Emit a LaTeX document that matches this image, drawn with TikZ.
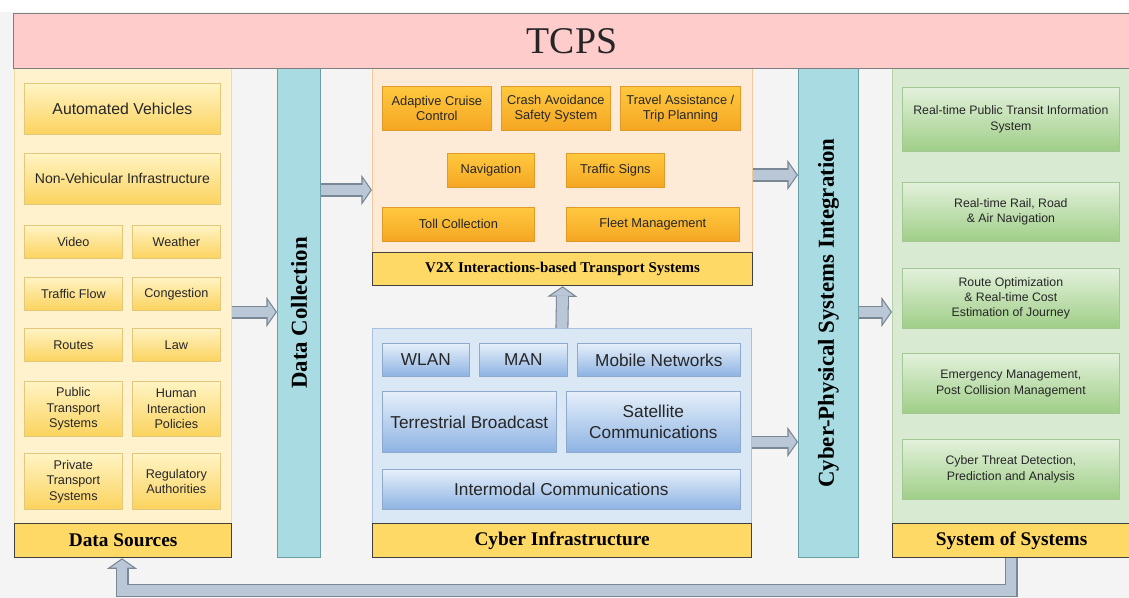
\documentclass[tikz,border=0pt]{standalone}
\usepackage{fontspec}
\setmainfont{Liberation Sans}
\newfontfamily\capserif{Liberation Serif}
\usetikzlibrary{arrows.meta}

\definecolor{bggray}{HTML}{F4F4F4}
\definecolor{textgray}{HTML}{262626}
\definecolor{tcpsfill}{HTML}{FFCCCC}
\definecolor{tcpsedge}{HTML}{7F7F7F}
\definecolor{dsfill}{HTML}{FFF2CC}
\definecolor{dsedge}{HTML}{F0DCA0}
\definecolor{v2xfill}{HTML}{FDEBD8}
\definecolor{v2xedge}{HTML}{F2C99C}
\definecolor{cifill}{HTML}{DAE8F6}
\definecolor{ciedge}{HTML}{A9C1DE}
\definecolor{sosfill}{HTML}{D8EAD2}
\definecolor{sosedge}{HTML}{B5D3A6}
\definecolor{colfill}{HTML}{A8DCE2}
\definecolor{coledge}{HTML}{6A9FA8}
\definecolor{barfill}{HTML}{FFD966}
\definecolor{baredge}{HTML}{404040}
\definecolor{ytop}{HTML}{FFF4C4}
\definecolor{ybot}{HTML}{FBD35E}
\definecolor{yedge}{HTML}{E3C77A}
\definecolor{otop}{HTML}{FFC93F}
\definecolor{obot}{HTML}{F5A623}
\definecolor{oedge}{HTML}{E19A2A}
\definecolor{btop}{HTML}{E6EFFA}
\definecolor{bbot}{HTML}{8DB3E2}
\definecolor{bedge}{HTML}{8FA9CC}
\definecolor{gtop}{HTML}{E3F1DC}
\definecolor{gbot}{HTML}{9FCE87}
\definecolor{gedge}{HTML}{A5C793}
\definecolor{arrowfill}{HTML}{B9C7D7}
\definecolor{arrowedge}{HTML}{7A8794}

\tikzset{
  sz/.style 2 args={minimum width=#1*0.02cm, minimum height=#2*0.02cm, anchor=north west},
  panelbox/.style={draw=#1, inner sep=0pt, line width=0.5pt},
  secbar/.style={draw=baredge, fill=barfill, inner sep=0pt, line width=0.7pt,
    font=\capserif\bfseries\fontsize{11}{13}\selectfont},
  colbox/.style={draw=coledge, fill=colfill, inner sep=0pt, line width=0.6pt},
  coltext/.style={rotate=90, font=\capserif\bfseries\fontsize{13}{15}\selectfont},
  ybox/.style={draw=yedge, top color=ytop, bottom color=ybot, inner sep=0pt,
    align=center, text=textgray, line width=0.4pt, font=\fontsize{7.2}{8.8}\selectfont},
  obox/.style={draw=oedge, top color=otop, bottom color=obot, inner sep=0pt,
    align=center, text=textgray, line width=0.4pt, font=\fontsize{7.3}{8.5}\selectfont},
  bbox/.style={draw=bedge, top color=btop, bottom color=bbot, inner sep=0pt,
    align=center, text=textgray, line width=0.4pt, font=\fontsize{9.8}{11.7}\selectfont},
  gbox/.style={draw=gedge, top color=gtop, bottom color=gbot, inner sep=0pt,
    align=center, text=textgray, line width=0.4pt, font=\fontsize{7}{8.8}\selectfont},
  arrowbody/.style={draw=arrowedge, line width=7.4pt, line join=miter,
    -{Triangle[length=6pt, width=17pt, line width=0.6pt, fill=arrowfill]}},
  arrowcore/.style={draw=arrowfill, line width=6.2pt, line join=miter, shorten >=5.2pt},
}
\newcommand{\blockarrow}[1]{%
  \draw[arrowbody] #1;
  \draw[arrowcore] #1;}

\begin{document}
\begin{tikzpicture}[x=0.02cm, y=-0.02cm]
	% canvas
	\useasboundingbox (0,0) rectangle (1129,598);
	\fill[bggray] (0,0) rectangle (1129,598);
	\fill[white] (0,0) rectangle (1129,12);
	% Panels
	\node[panelbox=dsedge, fill=dsfill, sz={217}{455}] (ds) at (14,68) {};
	\node[secbar, sz={217}{34}] (dsbar) at (14,523) {Data Sources};
	\node[colbox, sz={43}{489}] (dc) at (277,68) {};
	\node[coltext] (dctext) at (dc.center) {Data Collection};
	\node[panelbox=v2xedge, fill=v2xfill, sz={380}{184}] (v2x) at (372,68) {};
	\node[secbar, font=\capserif\bfseries\fontsize{8.5}{10}\selectfont, sz={380}{33}] (v2xbar) at (372,252) {V2X Interactions-based Transport Systems};
	\node[panelbox=ciedge, fill=cifill, sz={379}{195}] (ci) at (372,328) {};
	\node[secbar, sz={379}{34}] (cibar) at (372,523) {Cyber Infrastructure};
	\node[colbox, sz={60}{489}] (cps) at (798,68) {};
	\node[coltext] (cpstext) at (cps.center) {Cyber-Physical Systems Integration};
	\node[panelbox=sosedge, fill=sosfill, sz={238}{455}] (sos) at (892,68) {};
	\node[secbar, sz={238}{34}] (sosbar) at (892,523) {System of Systems};
	% TCPS header
	\node[draw=tcpsedge, fill=tcpsfill, inner sep=0pt, line width=0.6pt, text=textgray,
	  font=\capserif\fontsize{21.5}{25}\selectfont, sz={1117}{55}] (tcps) at (13,13) {TCPS};
	% Data sources
	\node[ybox, font=\fontsize{9}{11}\selectfont, sz={196}{51}] (av) at (24,83) {Automated Vehicles};
	\node[ybox, font=\fontsize{8}{10}\selectfont, sz={196}{51}] (nvi) at (24,153) {Non-Vehicular Infrastructure};
	\node[ybox, sz={98}{33}] (video) at (24,225) {Video};
	\node[ybox, sz={88}{33}] (weather) at (132,225) {Weather};
	\node[ybox, sz={98}{33}] (tflow) at (24,277) {Traffic Flow};
	\node[ybox, sz={88}{33}] (cong) at (132,277) {Congestion};
	\node[ybox, sz={98}{33}] (routes) at (24,328) {Routes};
	\node[ybox, sz={88}{33}] (law) at (132,328) {Law};
	\node[ybox, sz={98}{55}] (pubts) at (24,381) {Public\\Transport\\Systems};
	\node[ybox, sz={88}{55}] (hip) at (132,381) {Human\\Interaction\\Policies};
	\node[ybox, sz={98}{56}] (privts) at (24,453) {Private\\Transport\\Systems};
	\node[ybox, sz={88}{56}] (regauth) at (132,453) {Regulatory\\Authorities};
	% V2X systems
	\node[obox, sz={109}{44}] (acc) at (382,86) {Adaptive Cruise\\Control};
	\node[obox, sz={109}{44}] (cas) at (501,86) {Crash Avoidance\\Safety System};
	\node[obox, sz={120}{44}] (trip) at (620,86) {Travel Assistance /\\Trip Planning};
	\node[obox, sz={87}{34}] (nav) at (447,153) {Navigation};
	\node[obox, sz={98}{34}] (tsign) at (566,153) {Traffic Signs};
	\node[obox, sz={152}{34}] (toll) at (382,207) {Toll Collection};
	\node[obox, sz={173}{34}] (fleet) at (566,207) {Fleet Management};
	% Cyber infrastructure
	\node[bbox, sz={87}{33}] (wlan) at (382,343) {WLAN};
	\node[bbox, sz={88}{33}] (man) at (479,343) {MAN};
	\node[bbox, sz={163}{33}] (mobile) at (577,343) {Mobile Networks};
	\node[bbox, sz={174}{61}] (terr) at (382,391) {Terrestrial Broadcast};
	\node[bbox, sz={174}{61}] (sat) at (566,391) {Satellite\\Communications};
	\node[bbox, sz={358}{40}] (intermodal) at (382,469) {Intermodal Communications};
	% System of systems
	\node[gbox, sz={217}{64}] (transit) at (902,87) {Real-time Public Transit Information\\System};
	\node[gbox, sz={217}{59}] (railnav) at (902,182) {Real-time Rail, Road\\\& Air Navigation};
	\node[gbox, sz={217}{60}] (route) at (902,268) {Route Optimization\\\& Real-time Cost\\Estimation of Journey};
	\node[gbox, sz={217}{60}] (emerg) at (902,353) {Emergency Management,\\Post Collision Management};
	\node[gbox, sz={217}{60}] (threat) at (902,439) {Cyber Threat Detection,\\Prediction and Analysis};
	% Block arrows
	\blockarrow{(ds.east |- 0,312) -- (dc.west |- 0,312)}
	\blockarrow{(dc.east |- 0,190) -- (v2x.west |- 0,190)}
	\blockarrow{(ci.north) -- (v2xbar.south)}
	\blockarrow{(v2x.east |- 0,175) -- (cps.west |- 0,175)}
	\blockarrow{(ci.east |- 0,442) -- (cps.west |- 0,442)}
	\blockarrow{(cps.east |- 0,312) -- (sos.west |- 0,312)}
	% Feedback loop
	\blockarrow{(sosbar.south -| 1011,0) -- ++(0,32) -| (dsbar.south -| 122,0)}
\end{tikzpicture}
\end{document}
